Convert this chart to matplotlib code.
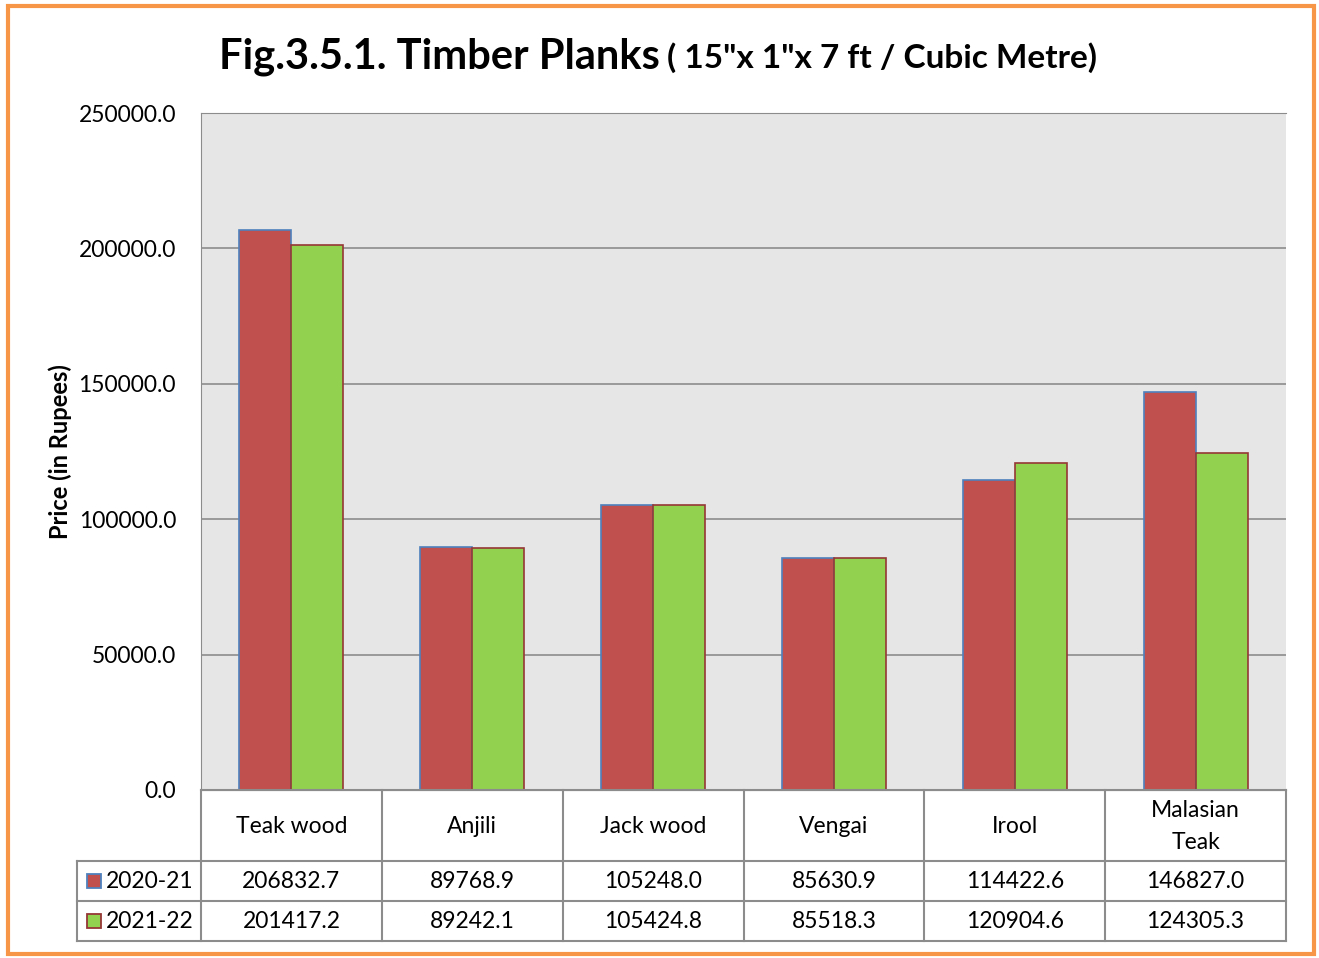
import matplotlib.pyplot as plt
import numpy as np
from matplotlib.patches import Rectangle

plt.rcParams['font.family'] = ['Lato', 'DejaVu Sans']

# ── data ──────────────────────────────────────────────
categories = ['Teak wood', 'Anjili', 'Jack wood', 'Vengai', 'Irool', 'Malasian\nTeak']
series_names = ['2020-21', '2021-22']
prices_2020 = [206832.7, 89768.9, 105248.0, 85630.9, 114422.6, 146827.0]
prices_2021 = [201417.2, 89242.1, 105424.8, 85518.3, 120904.6, 124305.3]
yticks = [0, 50000, 100000, 150000, 200000, 250000]

fills = ['#C0504D', '#92D050']
edges = ['#4F81BD', '#953735']

W, H = 1319, 958
fig = plt.figure(figsize=(W / 100, H / 100), dpi=100)

def px(x0, y0, x1, y1):
    # pixel box (top-left origin) -> figure fraction rect
    return [x0 / W, 1 - y1 / H, (x1 - x0) / W, (y1 - y0) / H]

FS = 16.5

# ── main bar axes ─────────────────────────────────────
ax = fig.add_axes(px(201, 113, 1286, 790))
ax.set_facecolor('#E6E6E6')
x = np.arange(len(categories))
bw = 0.288
ax.bar(x - bw / 2, prices_2020, bw, color=fills[0], edgecolor=edges[0], linewidth=1.2, zorder=3)
ax.bar(x + bw / 2, prices_2021, bw, color=fills[1], edgecolor=edges[1], linewidth=1.2, zorder=3)
ax.set_xlim(-0.5, len(categories) - 0.5)
ax.set_ylim(0, 250000)
ax.set_yticks(yticks)
ax.set_yticklabels([f'{v:.1f}' for v in yticks], fontsize=FS)
ax.tick_params(axis='y', length=0, pad=18)
ax.set_xticks([])
ax.grid(axis='y', color='#8C8C8C', linewidth=1.2, zorder=1)
for s in ['left', 'top', 'bottom']:
    ax.spines[s].set_color('#8C8C8C')
ax.spines['right'].set_visible(False)
ax.set_ylabel('Price (in Rupees)', fontsize=17, fontweight='bold', labelpad=5)

# ── data table ────────────────────────────────────────
tx0, tx1 = 77, 1286
tab = fig.add_axes(px(tx0, 790, tx1, 942))
tab.set_xlim(tx0, tx1)
tab.set_ylim(942, 790)
tab.axis('off')
cw = (1286 - 201) / len(categories)
col_edges = [201 + i * cw for i in range(len(categories) + 1)]
row_y = [790, 861, 901, 941]
lc = '#8C8C8C'
lw = 1.5
for xe in col_edges:
    tab.plot([xe, xe], [row_y[0], row_y[-1]], color=lc, lw=lw, clip_on=False)
tab.plot([tx0, tx0], [row_y[1], row_y[-1]], color=lc, lw=lw, clip_on=False)
tab.plot([201, 1286], [row_y[0], row_y[0]], color=lc, lw=lw, clip_on=False)
for yy in row_y[1:]:
    tab.plot([tx0, 1286], [yy, yy], color=lc, lw=lw, clip_on=False)

for i, c in enumerate(categories):
    xc = col_edges[i] + cw / 2
    tab.text(xc, (row_y[0] + row_y[1]) / 2 + 1, c, ha='center', va='center', fontsize=FS, linespacing=1.6)
    tab.text(xc, (row_y[1] + row_y[2]) / 2, f'{prices_2020[i]:.1f}', ha='center', va='center', fontsize=FS)
    tab.text(xc, (row_y[2] + row_y[3]) / 2, f'{prices_2021[i]:.1f}', ha='center', va='center', fontsize=FS)

for r, name in enumerate(series_names):
    yc = (row_y[r + 1] + row_y[r + 2]) / 2
    tab.add_patch(Rectangle((87, yc - 7), 14, 14, facecolor=fills[r], edgecolor=edges[r], lw=1.3, clip_on=False))
    tab.text(106, yc, name, ha='left', va='center', fontsize=FS)

# ── title ─────────────────────────────────────────────
fig.text(660 / W, 1 - 68 / H, 'Fig.3.5.1. Timber Planks', ha='right', va='baseline',
         fontsize=30, fontweight='bold')
fig.text(667 / W, 1 - 68 / H, '( 15"x 1"x 7 ft / Cubic Metre)', ha='left', va='baseline',
         fontsize=24, fontweight='bold')

# ── orange frame ──────────────────────────────────────
fig.add_artist(Rectangle((8 / W, 4 / H), 1306 / W, 948 / H, transform=fig.transFigure,
                         fill=False, edgecolor='#F79646', lw=3))

fig.savefig('out.png', dpi=100)
